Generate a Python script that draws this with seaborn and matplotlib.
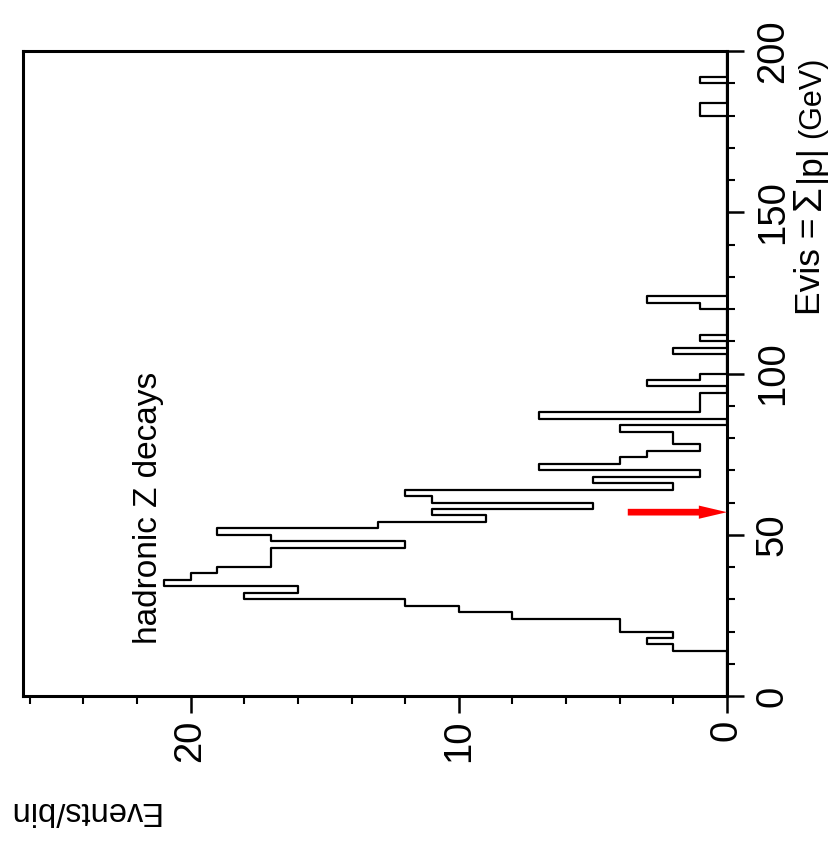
import numpy as np
import pandas as pd
import matplotlib
matplotlib.use("Agg")
import matplotlib.pyplot as plt
import seaborn as sns

# ---- data (2 GeV bins, only non-empty bins listed) ----
bin_low = [14, 16, 18, 20, 22, 24, 26, 28, 30, 32, 34, 36, 38, 40, 42, 44,
           46, 48, 50, 52, 54, 56, 58, 60, 62, 64, 66, 68, 70, 72, 74, 76,
           78, 80, 82, 86, 88, 90, 92, 96, 98, 106, 110, 120, 122, 180, 182, 190]
counts = [2, 3, 2, 4, 4, 8, 10, 12, 18, 16, 21, 20, 19, 17, 17, 17,
          12, 17, 19, 13, 9, 11, 5, 11, 12, 2, 5, 1, 7, 4, 3, 1,
          2, 2, 4, 7, 1, 1, 1, 3, 1, 2, 1, 1, 3, 1, 1, 1]
bin_width = 2
evis_ticks = [0, 50, 100, 150, 200]
event_ticks = [0, 10, 20]
arrow_evis = 57.0
arrow_from = 3.7

df = pd.DataFrame({"evis": np.array(bin_low) + bin_width / 2, "n": counts})

sns.set_theme(style="white")
plt.rcParams['font.family'] = ['Liberation Sans', 'DejaVu Sans']

W, H = 829, 841
fig = plt.figure(figsize=(W / 100, H / 100), dpi=100)
ax = fig.add_axes([23 / W, (H - 696) / H, (727 - 23) / W, (696 - 51) / H])

sns.histplot(data=df, y="evis", weights="n", binwidth=bin_width, binrange=(0, 200),
             element="step", fill=False, color="black", linewidth=1.6, ax=ax)

ax.set_ylim(0, 200)
ax.set_xlim(26.25, 0)

# arrow
ax.arrow(arrow_from, arrow_evis, -arrow_from, 0, width=2.07, head_width=4.1,
         head_length=1.05, length_includes_head=True, color="#ff0000", lw=0, zorder=5)

# spines
for s in ax.spines.values():
    s.set_linewidth(2.2)
    s.set_color("black")

ax.yaxis.tick_right()
ax.set_yticks(evis_ticks)
ax.set_yticks(np.arange(0, 201, 10), minor=True)
ax.set_xticks(event_ticks)
ax.set_xticks(np.arange(0, 27, 2), minor=True)
ax.tick_params(axis="both", which="major", length=12, width=1.8, direction="out",
               color="black", labelsize=27.5, labelcolor="black")
ax.tick_params(axis="both", which="minor", length=6, width=1.5, direction="out", color="black")
ax.tick_params(axis="x", which="both", bottom=True, top=False, pad=5, labelrotation=90)
ax.tick_params(axis="y", which="both", right=True, left=False, pad=8, labelrotation=90)
for lab in ax.get_yticklabels():
    lab.set_va("center")
ax.set_xlabel("")
ax.set_ylabel("")

# texts
fig.text(148 / W, (H - 508) / H, "hadronic Z decays", rotation=90, ha="center", va="center",
         fontsize=24, color="black")

# axis title assembled from parts sharing one baseline, stacked upward
renderer = fig.canvas.get_renderer()
base_x = 820 / W
y_disp = H - 315  # display pixels, origin bottom-left
label_parts = [("Evis =", 25.5, 8), ("Σ", 29, 3), ("|p|", 25.5, 6), ("(GeV)", 22, 0)]
for txt, size, gap in label_parts:
    t = fig.text(base_x, y_disp / H, txt, rotation=90, rotation_mode="anchor",
                 ha="left", va="baseline", fontsize=size, color="black")
    bb = t.get_window_extent(renderer)
    y_disp = bb.y1 + gap

fig.text(83 / W, (H - 810) / H, "Events/bin", rotation=180, ha="center", va="center",
         fontsize=23.5, color="black")

fig.savefig("out.png", dpi=100, facecolor="white")
